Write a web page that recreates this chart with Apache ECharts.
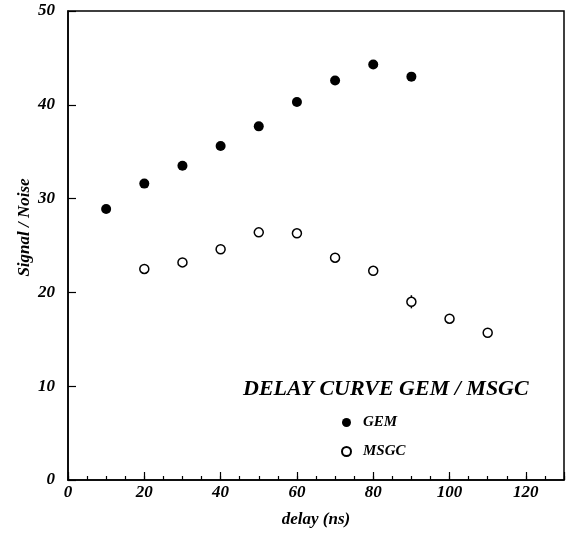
<!DOCTYPE html>
<html>
<head>
<meta charset="utf-8">
<script src="https://cdn.jsdelivr.net/npm/echarts@6/dist/echarts.min.js"></script>
<style>
html,body{margin:0;padding:0;background:#fff;}
#chart{width:568px;height:534px;}
</style>
</head>
<body>
<div id="chart"></div>
<script>
// Data
const delayGEM = [10, 20, 30, 40, 50, 60, 70, 80, 90];
const snGEM = [28.9, 31.6, 33.5, 35.6, 37.7, 40.3, 42.6, 44.3, 43.0];
const delayMSGC = [20, 30, 40, 50, 60, 70, 80, 90, 100, 110];
const snMSGC = [22.5, 23.2, 24.6, 26.4, 26.3, 23.7, 22.3, 19.0, 17.2, 15.7];
const errMSGC = [[90, 18.3, 19.7]];
const xTicks = [0, 20, 40, 60, 80, 100, 120];
const yTicks = [0, 10, 20, 30, 40, 50];

const FONT = '"Liberation Serif", "Times New Roman", serif';
const chart = echarts.init(document.getElementById('chart'), null, {renderer: 'canvas'});

const option = {
  animation: false,
  backgroundColor: '#fff',
  title: {
    text: 'DELAY CURVE GEM / MSGC',
    left: 238, top: 373,
    textStyle: {fontFamily: FONT, fontStyle: 'italic', fontWeight: 'bold', fontSize: 22, color: '#000'}
  },
  legend: {
    orient: 'vertical',
    left: 336, top: 410,
    itemWidth: 9, itemHeight: 9,
    itemGap: 14,
    data: ['GEM', 'MSGC'],
    textStyle: {fontFamily: FONT, fontStyle: 'italic', fontWeight: 'bold', fontSize: 15, color: '#000', padding: [0, 0, 0, 7]}
  },
  grid: {
    left: 68, right: 4, top: 11, bottom: 54,
    show: true, borderColor: '#000', borderWidth: 1.5, backgroundColor: 'transparent'
  },
  xAxis: [{
    type: 'value', min: 0, max: 130, interval: 20,
    name: 'delay (ns)', nameLocation: 'middle', nameGap: 31, nameMoveOverlap: false,
    nameTextStyle: {fontFamily: FONT, fontStyle: 'italic', fontWeight: 'bold', fontSize: 17, color: '#000'},
    axisLine: {show: true, lineStyle: {color: '#000', width: 1.5}},
    axisTick: {show: true, inside: true, length: 8, lineStyle: {color: '#000', width: 1.2}},
    axisLabel: {
      margin: 4, fontFamily: FONT, fontStyle: 'italic', fontWeight: 'bold', fontSize: 17, color: '#000',
      formatter: v => xTicks.indexOf(v) >= 0 ? String(v) : ''
    },
    splitLine: {show: false}
  }, {
    type: 'value', min: 0, max: 130, interval: 5, position: 'bottom',
    axisLine: {show: false},
    axisTick: {show: true, inside: true, length: 4, lineStyle: {color: '#000', width: 1.2}},
    axisLabel: {show: false},
    splitLine: {show: false}
  }],
  yAxis: {
    type: 'value', min: 0, max: 50, interval: 10,
    name: 'Signal / Noise', nameLocation: 'middle', nameGap: 35, nameMoveOverlap: false,
    nameTextStyle: {fontFamily: FONT, fontStyle: 'italic', fontWeight: 'bold', fontSize: 17, color: '#000', padding: [0, 0, 0, 36]},
    axisLine: {show: true, lineStyle: {color: '#000', width: 1.5}},
    axisTick: {show: true, inside: true, length: 8, lineStyle: {color: '#000', width: 1.2}},
    axisLabel: {
      margin: 13, fontFamily: FONT, fontStyle: 'italic', fontWeight: 'bold', fontSize: 17, color: '#000',
      formatter: v => yTicks.indexOf(v) >= 0 ? String(v) : ''
    },
    splitLine: {show: false}
  },
  series: [{
    name: 'GEM', type: 'scatter', symbol: 'circle', symbolSize: 10,
    itemStyle: {color: '#000', opacity: 1},
    data: delayGEM.map((x, i) => [x, snGEM[i]])
  }, {
    name: 'MSGC', type: 'scatter', symbol: 'circle', symbolSize: 9, z: 3,
    itemStyle: {color: '#fff', borderColor: '#000', borderWidth: 1.5, opacity: 1},
    data: delayMSGC.map((x, i) => [x, snMSGC[i]])
  }, {
    name: 'err', type: 'custom', z: 2,
    renderItem: function (params, api) {
      const p1 = api.coord([api.value(0), api.value(1)]);
      const p2 = api.coord([api.value(0), api.value(2)]);
      return {type: 'line', shape: {x1: p1[0], y1: p1[1], x2: p2[0], y2: p2[1]}, style: {stroke: '#000', lineWidth: 1.5}};
    },
    data: errMSGC
  }]
};
chart.setOption(option);
</script>
</body>
</html>
